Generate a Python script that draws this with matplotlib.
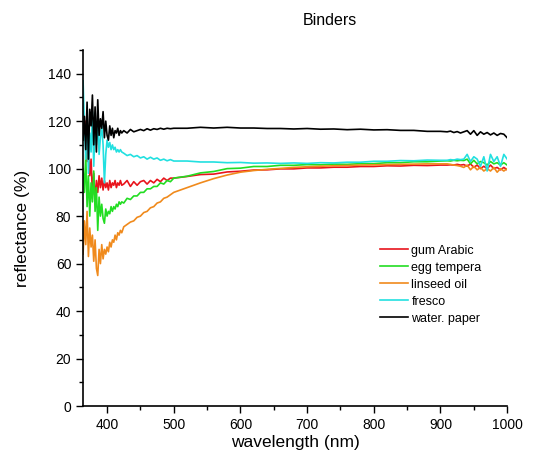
import matplotlib.pyplot as plt
from matplotlib.ticker import MultipleLocator

plt.rcParams['font.family'] = ['Liberation Sans', 'DejaVu Sans']

# wavelength grid (nm)
wavelength = [364, 366, 368, 370, 372, 374, 376, 378, 380, 382, 384, 386, 388, 390, 392,
              394, 396, 398, 400, 402, 404, 406, 408, 410, 412, 414, 416, 418, 420, 422,
              425, 430, 435, 440, 445, 450, 455, 460, 465, 470, 475, 480, 485, 490, 495, 500,
              520, 540, 560, 580, 600, 620, 640, 660, 680, 700, 720, 740, 760, 780, 800,
              820, 840, 860, 880, 900,
              910, 915, 920, 925, 930, 935, 940, 945, 950, 955, 960, 965, 970, 975, 980,
              985, 990, 995, 1000]

gum_arabic = [124, 112, 120, 103, 109, 97, 104, 89, 98, 86, 95, 90, 97, 92, 96,
              91, 95, 92, 94, 91, 95, 92, 94, 93, 95, 92, 94, 93, 95, 93,
              93.5, 95, 92.5, 94.5, 93, 94.5, 95, 93.5, 95, 94, 95.5, 94.5, 96, 95, 96, 96,
              96.7, 97.5, 97.7, 98.6, 98.9, 99.4, 99.5, 99.9, 99.9, 100.3, 100.3, 100.6, 100.6, 100.9, 100.9,
              101.2, 101.1, 101.4, 101.3, 101.5,
              101.5, 101.6, 101.5, 101.8, 101.5, 101.7, 101, 102, 100.5, 101.5, 100, 101, 100, 101.5, 100,
              100.5, 99.5, 100.5, 99.5]

egg_tempera = [100, 90, 106, 84, 97, 80, 94, 86, 99, 82, 92, 74, 88, 80, 85,
               79, 77, 83, 80, 82, 81, 84, 82, 84, 83, 85, 84, 86, 85, 86,
               85.5, 87.5, 87, 88.5, 88.5, 90, 90, 91.5, 91.5, 92.5, 92.5, 94, 93.5, 95, 94.5, 96,
               96.8, 98.2, 98.8, 100, 100.2, 100.9, 100.9, 101.4, 101.4, 101.7, 101.6, 101.9, 101.8, 102.1, 102.1,
               102.5, 102.5, 102.9, 102.9, 103.2,
               103.3, 103.2, 103.5, 103.3, 103.5, 103.4, 104, 102, 103.5, 102, 103, 102.5, 101.5, 103, 102,
               102.5, 101.5, 102.5, 101.5]

linseed_oil = [64, 78, 68, 82, 63, 75, 67, 72, 61, 70, 58, 55, 66, 60, 68,
               62, 66, 64, 67, 65, 69, 67, 70, 69, 72, 70, 73, 72, 74, 73,
               75.5, 76.5, 77.5, 78, 79.5, 80, 81.5, 82, 83.5, 84, 85.5, 86, 87.5, 88, 89, 90,
               92, 94, 95.8, 97.3, 98.5, 99.2, 99.7, 100.1, 100.5, 100.8, 101, 101.2, 101.3, 101.5, 101.6,
               101.7, 101.8, 101.9, 102, 102,
               102, 101.8, 101.5, 101.3, 101, 100.5, 101.5, 99.5, 101, 99.5, 100.5, 99, 100, 99, 100.5,
               98.5, 100, 99, 100]

fresco = [137, 118, 104, 122, 98, 115, 107, 124, 101, 117, 110, 121, 106, 113, 118,
          110, 94, 106, 112, 109, 111, 108, 110, 108, 109, 107, 108, 107, 108, 107,
          106.5, 105.5, 106, 105, 105.5, 104.5, 105, 104, 104.8, 104, 104.5, 103.5, 104, 103.3, 103.8, 103.2,
          103.2, 102.8, 102.8, 102.5, 102.6, 102.3, 102.4, 102.2, 102.4, 102.2, 102.5, 102.4, 102.7, 102.7, 103.1,
          103.1, 103.4, 103.3, 103.6, 103.5,
          103.5, 103.8, 103.6, 104, 103.8, 104, 106, 103, 105, 104, 101, 105, 99, 106, 103,
          105, 101, 106, 104]

water_paper = [112, 122, 108, 128, 104, 125, 118, 131, 110, 126, 107, 129, 114, 121, 117,
               124, 113, 120, 114, 112, 118, 114, 117, 113, 116, 115, 117, 114, 116, 115,
               116, 115, 116.5, 115.5, 116, 116.5, 116, 116.8, 116.2, 116.8, 116.5, 117, 116.6, 117, 116.8, 117,
               117, 117.4, 117.1, 117.4, 117.1, 117.1, 116.9, 116.9, 116.7, 116.9, 116.6, 116.7, 116.4, 116.6, 116.3,
               116.4, 116.1, 116.1, 115.7, 115.7,
               115.5, 115.8, 115.2, 115.6, 115, 115.5, 116, 114.5, 116, 114, 115.5, 114.5, 115.2, 114.2, 115,
               114, 114.8, 114.5, 113]

fig = plt.figure(figsize=(5.43, 4.62), dpi=100)
ax = fig.add_axes([0.153, 0.121, 0.781, 0.771])

ax.plot(wavelength, gum_arabic, color='#e8141c', lw=1.2, label='gum Arabic')
ax.plot(wavelength, egg_tempera, color='#22dd22', lw=1.2, label='egg tempera')
ax.plot(wavelength, linseed_oil, color='#f08a1c', lw=1.2, label='linseed oil')
ax.plot(wavelength, fresco, color='#22e0e0', lw=1.2, label='fresco')
ax.plot(wavelength, water_paper, color='black', lw=1.2, label='water. paper')

ax.set_xlim(364, 1000)
ax.set_ylim(0, 150)
ax.xaxis.set_major_locator(MultipleLocator(100))
ax.xaxis.set_minor_locator(MultipleLocator(50))
ax.yaxis.set_major_locator(MultipleLocator(20))
ax.yaxis.set_minor_locator(MultipleLocator(10))
ax.tick_params(which='major', direction='out', length=5, width=1, labelsize=10)
ax.tick_params(which='minor', direction='out', length=3, width=1)
for s in ['top', 'right']:
    ax.spines[s].set_visible(False)
for s in ['left', 'bottom']:
    ax.spines[s].set_linewidth(1.2)

ax.set_xlabel('wavelength (nm)', fontsize=12.5, labelpad=2)
ax.set_ylabel('reflectance (%)', fontsize=12.5, labelpad=13)
fig.text(0.607, 0.955, 'Binders', fontsize=11.5, ha='center', va='center')

ax.legend(loc='upper left', bbox_to_anchor=(0.674, 0.485), frameon=False, fontsize=9,
          handlelength=2.2, handletextpad=0.3, labelspacing=0.4)

fig.savefig('out.png', dpi=100)
